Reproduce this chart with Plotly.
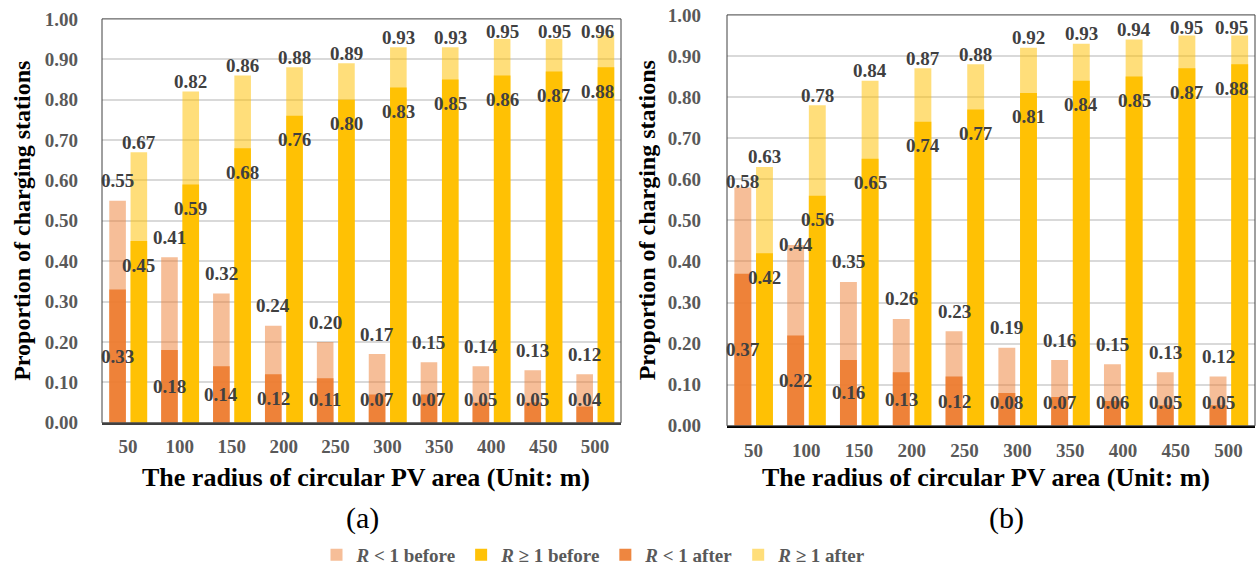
import plotly.graph_objects as go
import numpy as np

radii = ["50", "100", "150", "200", "250", "300", "350", "400", "450", "500"]

# Panel (a)
a_lt1_before = [0.55, 0.41, 0.32, 0.24, 0.20, 0.17, 0.15, 0.14, 0.13, 0.12]
a_lt1_after = [0.33, 0.18, 0.14, 0.12, 0.11, 0.07, 0.07, 0.05, 0.05, 0.04]
a_ge1_before = [0.45, 0.59, 0.68, 0.76, 0.80, 0.83, 0.85, 0.86, 0.87, 0.88]
a_ge1_after = [0.67, 0.82, 0.86, 0.88, 0.89, 0.93, 0.93, 0.95, 0.95, 0.96]

# Panel (b)
b_lt1_before = [0.58, 0.44, 0.35, 0.26, 0.23, 0.19, 0.16, 0.15, 0.13, 0.12]
b_lt1_after = [0.37, 0.22, 0.16, 0.13, 0.12, 0.08, 0.07, 0.06, 0.05, 0.05]
b_ge1_before = [0.42, 0.56, 0.65, 0.74, 0.77, 0.81, 0.84, 0.85, 0.87, 0.88]
b_ge1_after = [0.63, 0.78, 0.84, 0.87, 0.88, 0.92, 0.93, 0.94, 0.95, 0.95]

series_names = ["<i>R</i> < 1 before", "<i>R</i> ≥ 1 before",
                "<i>R</i> < 1 after", "<i>R</i> ≥ 1 after"]
y_ticks = [0.0, 0.1, 0.2, 0.3, 0.4, 0.5, 0.6, 0.7, 0.8, 0.9, 1.0]
x_title = "The radius of circular PV area (Unit: m)"
y_title = "Proportion of charging stations"
panel_labels = ["(a)", "(b)"]

FONT = "Liberation Serif"
C_PINK = "rgba(237,125,49,0.5)"
C_DARK = "rgba(237,125,49,0.93)"
C_LIGHTY = "rgba(255,192,0,0.52)"
C_GOLD = "rgba(255,192,0,0.97)"
LABEL_COLOR = "#404040"
TICK_COLOR = "#595959"

W, H = 1260, 574
OFF = 0  # the page's body margin is removed below, so the figure sits at the window corner


def fx(px):
    return (px - OFF) / W


def fy(py):
    return (H + OFF - py) / H


idx = np.arange(len(radii))

panels = [
    dict(xa="x", ya="y", xdom=[fx(102), fx(621)], ydom=[fy(425), fy(19)], hpx=406,
         lt1b=a_lt1_before, lt1a=a_lt1_after, ge1b=a_ge1_before, ge1a=a_ge1_after,
         xline=1.5, xlinecolor="#404040", xt=fx(366), yt=fx(22), pl=fx(362), ystand=23),
    dict(xa="x2", ya="y2", xdom=[fx(727), fx(1255)], ydom=[fy(428), fy(15)], hpx=413,
         lt1b=b_lt1_before, lt1a=b_lt1_after, ge1b=b_ge1_before, ge1a=b_ge1_after,
         xline=2, xlinecolor="#000000", xt=fx(986), yt=fx(647), pl=fx(1006), ystand=25),
]

LEFT_OFF, RIGHT_OFF, BW = -0.36, 0.05, 0.32
LEFT_C, RIGHT_C = LEFT_OFF + BW / 2, RIGHT_OFF + BW / 2
LAST = len(radii) - 1

fig = go.Figure()
annotations = []
lab_font = dict(family=FONT, size=19, color=LABEL_COLOR, weight="bold")

for pi, p in enumerate(panels):
    show = pi == 0
    hpx = p["hpx"]
    specs = [
        (p["lt1b"], LEFT_OFF, C_PINK, series_names[0], 1),
        (p["lt1a"], LEFT_OFF, C_DARK, series_names[2], 3),
        (p["ge1a"], RIGHT_OFF, C_LIGHTY, series_names[3], 4),
        (p["ge1b"], RIGHT_OFF, C_GOLD, series_names[1], 2),
    ]
    for vals, off, col, name, rank in specs:
        fig.add_trace(go.Bar(
            x=idx, y=vals, offset=off, width=BW,
            marker=dict(color=col, line=dict(width=0)),
            name=name, legendgroup=name, showlegend=show, legendrank=rank,
            xaxis=p["xa"], yaxis=p["ya"], hoverinfo="skip",
        ))
    for i in idx:
        # right-hand labels of the last group are kept inside the plot frame
        if i == LAST:
            rx = dict(x=len(radii) - 0.5, xanchor="right", xshift=-5)
        else:
            rx = dict(x=i + RIGHT_C, xanchor="center")
        # label centres in px below the frame top
        ys_after = min(10, (1 - p["ge1a"][i]) * hpx - 13)
        c_after = (1 - p["ge1a"][i]) * hpx - ys_after
        c_before = (1 - p["ge1b"][i]) * hpx + 24
        c_pink = (1 - p["lt1b"][i]) * hpx - 20
        for c in (c_after, c_before):
            if abs(c_pink - c) < 22:
                c_pink = c + 25
        ys_pink = (1 - p["lt1b"][i]) * hpx - c_pink
        # R<1 before: above the bar
        annotations.append(dict(x=i + LEFT_C, y=p["lt1b"][i], xref=p["xa"], yref=p["ya"],
                                text=f"{p['lt1b'][i]:.2f}", showarrow=False,
                                yanchor="middle", yshift=ys_pink, font=lab_font))
        # R<1 after: centred in the bar, kept clear of the axis
        yc = max(p["lt1a"][i] / 2, 0.057)
        annotations.append(dict(x=i + LEFT_C, y=yc, xref=p["xa"], yref=p["ya"],
                                text=f"{p['lt1a'][i]:.2f}", showarrow=False,
                                yanchor="middle", font=lab_font))
        # R>=1 after: above the bar, kept under the frame top
        annotations.append(dict(y=p["ge1a"][i], xref=p["xa"], yref=p["ya"],
                                text=f"{p['ge1a'][i]:.2f}", showarrow=False,
                                yanchor="middle", yshift=ys_after, font=lab_font, **rx))
        # R>=1 before: inside end
        annotations.append(dict(y=p["ge1b"][i], xref=p["xa"], yref=p["ya"],
                                text=f"{p['ge1b'][i]:.2f}", showarrow=False,
                                yanchor="middle", yshift=-24, font=lab_font, **rx))
    annotations.append(dict(x=p["xt"], y=fy(480), xref="paper", yref="paper",
                            text=x_title, showarrow=False, xanchor="center", yanchor="middle",
                            font=dict(family=FONT, size=26, color="#000000", weight="bold")))
    annotations.append(dict(x=p["yt"], y=(p["ydom"][0] + p["ydom"][1]) / 2, xref="paper", yref="paper",
                            text=y_title, showarrow=False, textangle=-90,
                            xanchor="center", yanchor="middle",
                            font=dict(family=FONT, size=24, color="#000000", weight="bold")))
    annotations.append(dict(x=p["pl"], y=fy(521), xref="paper", yref="paper",
                            text=panel_labels[pi], showarrow=False, xanchor="center", yanchor="middle",
                            font=dict(family=FONT, size=30, color="#000000")))

tickfont = dict(family=FONT, size=19, color=TICK_COLOR, weight="bold")
layout = dict(
    template="none",
    width=W, height=H, autosize=False,
    margin=dict(l=0, r=0, t=0, b=0, pad=0),
    paper_bgcolor="white", plot_bgcolor="white",
    barmode="overlay",
    hovermode=False,
    font=dict(family=FONT),
    annotations=annotations,
    legend=dict(orientation="h", x=fx(594), xanchor="center", y=fy(558), yanchor="middle",
                font=dict(family=FONT, size=19, color=TICK_COLOR, weight="bold"),
                itemwidth=30, tracegroupgap=0, bgcolor="rgba(0,0,0,0)", borderwidth=0),
    shapes=[],
)
for pi, p in enumerate(panels):
    xk = "xaxis" if pi == 0 else "xaxis2"
    yk = "yaxis" if pi == 0 else "yaxis2"
    layout[xk] = dict(domain=p["xdom"], anchor=p["ya"], range=[-0.5, len(radii) - 0.5],
                      tickmode="array", tickvals=list(idx), ticktext=radii,
                      showgrid=False, zeroline=False, ticks="", tickfont=tickfont,
                      showline=True, linecolor=p["xlinecolor"], linewidth=p["xline"],
                      ticklabelstandoff=6, ticklabeloverflow="allow",
                      automargin=False, fixedrange=True)
    layout[yk] = dict(domain=p["ydom"], anchor=p["xa"], range=[0, 1],
                      tickmode="array", tickvals=y_ticks, tickformat=".2f",
                      showgrid=True, gridcolor="#D9D9D9", gridwidth=2,
                      zeroline=False, showline=False, ticks="", tickfont=tickfont,
                      ticklabelstandoff=p["ystand"], ticklabeloverflow="allow",
                      automargin=False, fixedrange=True)
    layout["shapes"].append(dict(type="rect", xref=f"{p['xa']} domain", yref=f"{p['ya']} domain",
                                 x0=0, x1=1, y0=0, y1=1,
                                 line=dict(color="#404040", width=1), layer="above"))

fig.update_layout(**layout)
fig.write_html("out.html", config={"displayModeBar": False},
               post_script="document.body.style.margin='0px';")
